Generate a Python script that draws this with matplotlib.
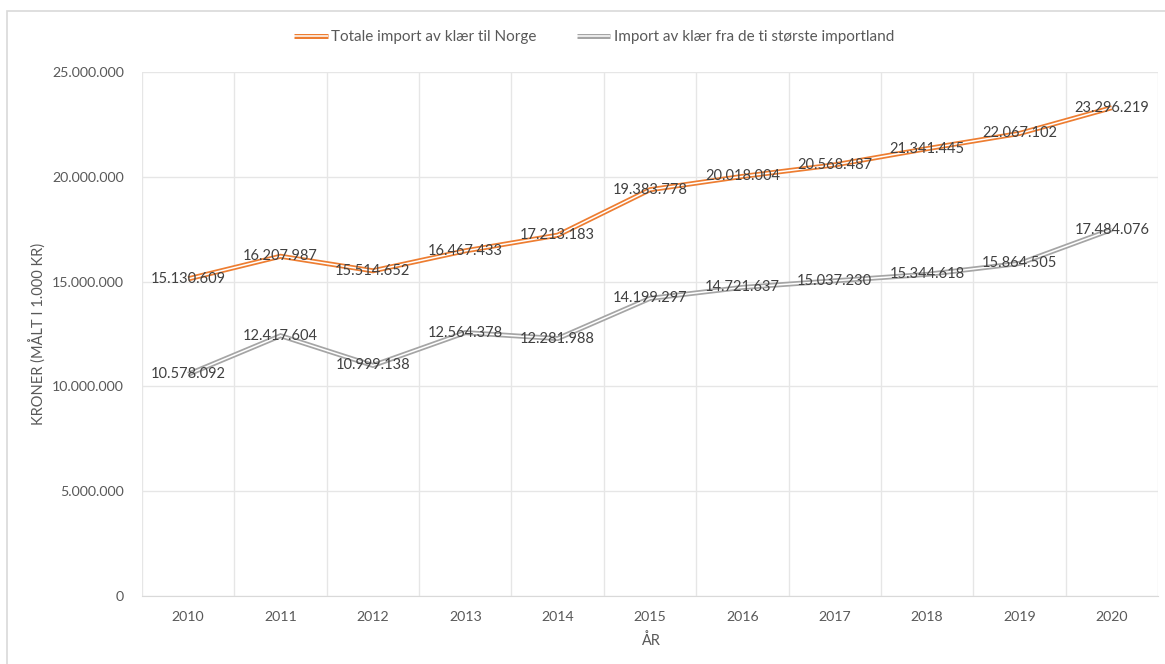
import matplotlib
matplotlib.use("Agg")
import matplotlib.pyplot as plt
from matplotlib.legend_handler import HandlerTuple
from matplotlib.patches import Rectangle
from matplotlib.ticker import FuncFormatter, MultipleLocator

plt.rcParams["font.family"] = ["Lato", "DejaVu Sans"]

YEARS = [2010, 2011, 2012, 2013, 2014, 2015, 2016, 2017, 2018, 2019, 2020]
TOTAL = [15130609, 16207987, 15514652, 16467433, 17213183, 19383778,
         20018004, 20568487, 21341445, 22067102, 23296219]
TOP10 = [10578092, 12417604, 10999138, 12564378, 12281988, 14199297,
         14721637, 15037230, 15344618, 15864505, 17484076]
LABEL_TOTAL = "Totale import av klær til Norge"
LABEL_TOP10 = "Import av klær fra de ti største importland"

ORANGE = "#ED7D31"
GRAY = "#A5A5A5"
TXT = "#595959"


def dots(v, _=None):
    return f"{int(v):,}".replace(",", ".")


fig = plt.figure(figsize=(11.65, 6.64), dpi=100)
ax = fig.add_axes([0.1219, 0.1024, 0.8721, 0.7892])

# outer chart frame (Excel chart area border)
fig.patches.append(Rectangle((0.006, -0.1), 1.2, 1.0834, transform=fig.transFigure,
                             fill=False, edgecolor="#d9d9d9", lw=1.2))

x = list(range(len(YEARS)))
handles = []
for vals, col, lab in [(TOTAL, ORANGE, LABEL_TOTAL), (TOP10, GRAY, LABEL_TOP10)]:
    outer, = ax.plot(x, vals, color=col, lw=3.6, solid_joinstyle="miter",
                     solid_capstyle="butt", zorder=3)
    inner, = ax.plot(x, vals, color="white", lw=1.1, solid_joinstyle="miter",
                     solid_capstyle="butt", zorder=4)
    handles.append(((outer, inner), lab))
    for xi, v in zip(x, vals):
        ax.text(xi, v, dots(v), ha="center", va="center", fontsize=10.5,
                color="#404040", zorder=5)

ax.set_xlim(-0.5, len(YEARS) - 0.5)
ax.set_ylim(0, 25_000_000)
ax.set_xticks(x)
ax.set_xticklabels([str(y) for y in YEARS])
ax.xaxis.set_minor_locator(MultipleLocator(1, offset=0.5))
ax.yaxis.set_major_locator(MultipleLocator(5_000_000))
ax.yaxis.set_major_formatter(FuncFormatter(dots))

ax.grid(True, which="major", axis="y", color="#e6e6e6", lw=1)
ax.grid(True, which="minor", axis="x", color="#e6e6e6", lw=1)
ax.set_axisbelow(True)
for s in ["top", "right", "left"]:
    ax.spines[s].set_visible(False)
ax.spines["bottom"].set_color("#d9d9d9")
ax.tick_params(which="both", length=0, colors=TXT, labelsize=10.2)
ax.tick_params(axis="x", pad=11)
ax.tick_params(axis="y", pad=13)

ax.set_xlabel("ÅR", color=TXT, fontsize=10.5, labelpad=7)
ax.set_ylabel("KRONER (MÅLT I 1.000 KR)", color=TXT, fontsize=10.5, labelpad=4)

fig.legend([h for h, _ in handles], [l for _, l in handles],
           handler_map={tuple: HandlerTuple(ndivide=1)},
           loc="center", bbox_to_anchor=(0.51, 0.944), ncol=2, frameon=False,
           fontsize=11, labelcolor=TXT, handlelength=2.2, columnspacing=2.6,
           handletextpad=0.25)

fig.savefig("out.png", dpi=100)
